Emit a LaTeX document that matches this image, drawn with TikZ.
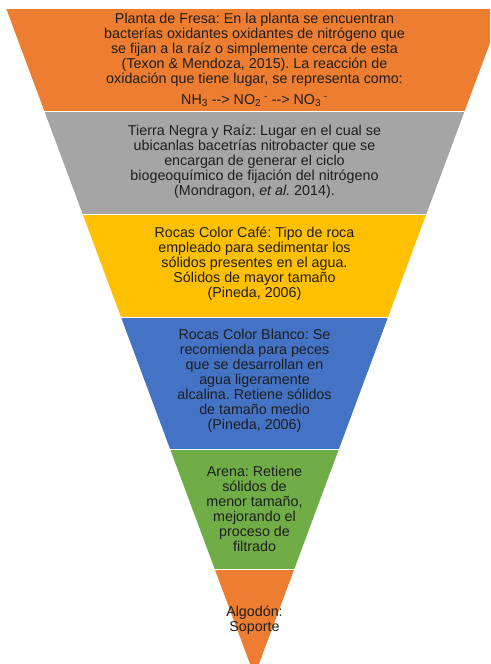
\documentclass[tikz,border=0pt]{standalone}
\usepackage{fontspec}
\setmainfont{Liberation Sans}
\definecolor{cOrange}{HTML}{ED7D31}
\definecolor{cGray}{HTML}{A5A5A5}
\definecolor{cGold}{HTML}{FFC000}
\definecolor{cBlue}{HTML}{4472C4}
\definecolor{cGreen}{HTML}{70AD47}
\definecolor{cText}{HTML}{1E1E1E}
\begin{document}
\frenchspacing
\begin{tikzpicture}[x=1pt,y=-1pt,
  bandtext/.style={align=center,text=cText,inner sep=0pt,font=\fontsize{14.3}{15}\selectfont}]
\useasboundingbox (0,0) rectangle (490,664);
\clip (0,0) rectangle (490,664);
\newcommand{\tri}{(6.38,9) -- (502.62,9) -- (254.5,676) -- cycle}
\newcommand{\band}[3]{\begin{scope}\clip (-10,#1) rectangle (520,#2);\fill[#3] \tri;\end{scope}}
\band{9}{110}{cOrange}
\band{112}{213}{cGray}
\band{215}{316}{cGold}
\band{318}{448}{cBlue}
\band{450}{568}{cGreen}
\band{570}{680}{cOrange}
\node[bandtext] (b1) at (254.5,60) {Planta de Fresa: En la planta se encuentran\\
bacterías oxidantes oxidantes de nitrógeno que\\
se fijan a la raíz o simplemente cerca de esta\\
(Texon \& Mendoza, 2015). La reacción de\\
oxidación que tiene lugar, se representa como:\\[6pt]
NH\textsubscript{3} {-}{-}> NO\textsubscript{2}\textsuperscript{ -} {-}{-}> NO\textsubscript{3}\textsuperscript{ -}};
\node[bandtext] (b2) at (254.5,162) {Tierra Negra y Raíz: Lugar en el cual se\\
ubicanlas bacetrías nitrobacter que se\\
encargan de generar el ciclo\\
biogeoquímico de fijación del nitrógeno\\
(Mondragon, \textit{et al.} 2014).};
\node[bandtext] (b3) at (254.5,264) {Rocas Color Café: Tipo de roca\\
empleado para sedimentar los\\
sólidos presentes en el agua.\\
Sólidos de mayor tamaño\\
(Pineda, 2006)};
\node[bandtext] (b4) at (254.5,381) {Rocas Color Blanco: Se\\
recomienda para peces\\
que se desarrollan en\\
agua ligeramente\\
alcalina. Retiene sólidos\\
de tamaño medio\\
(Pineda, 2006)};
\node[bandtext] (b5) at (254.5,509) {Arena: Retiene\\
sólidos de\\
menor tamaño,\\
mejorando el\\
proceso de\\
filtrado};
\node[bandtext] (b6) at (254.5,620) {Algodón:\\
Soporte};
\end{tikzpicture}
\end{document}
